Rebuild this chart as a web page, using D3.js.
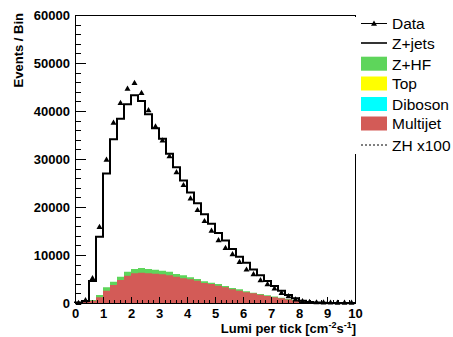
<!DOCTYPE html>
<html>
<head>
<meta charset="utf-8">
<script src="https://cdn.jsdelivr.net/npm/d3@7"></script>
<style>
  body { margin: 0; background: #fff; }
  svg { display: block; font-family: "Liberation Sans", Arial, Helvetica, sans-serif; }
</style>
</head>
<body>
<script>
(function all (){
  //bin lower edges (bin width 0.25)
  var binLo = [0, 0.25, 0.5, 0.75, 1, 1.25, 1.5, 1.75, 2, 2.25, 2.5, 2.75, 3, 3.25, 3.5, 3.75,
    4, 4.25, 4.5, 4.75, 5, 5.25, 5.5, 5.75, 6, 6.25, 6.5, 6.75, 7, 7.25, 7.5, 7.75,
    8, 8.25, 8.5, 8.75, 9, 9.25, 9.5, 9.75];
  var binW = 0.25;

  //stack tops (cumulative)
  var zjetsTop = [100, 400, 4600, 13800, 27000, 34100, 38400, 41400, 43300, 42100, 39300, 36400,
    34200, 31100, 28300, 25500, 23000, 20800, 18500, 16500, 14600, 13000, 11250, 9650,
    8400, 7000, 5770, 4580, 3540, 2560, 1670, 980, 480, 220, 100, 50, 25, 10, 5, 0];
  var zhfTop = [80, 300, 600, 1670, 3270, 4440, 5490, 6530, 7080, 7290, 7080, 6940,
    6740, 6530, 6040, 5760, 5350, 5000, 4510, 4240, 3960, 3540, 3125, 2850,
    2430, 2150, 1875, 1600, 1350, 1100, 850, 600, 400, 250, 150, 100, 60, 40, 20, 10];
  var multijetTop = [50, 230, 450, 1190, 2570, 3750, 4800, 5690, 6180, 6320, 6180, 6110,
    5970, 5760, 5490, 5140, 4930, 4650, 4170, 3960, 3610, 3260, 2850, 2570,
    2220, 2010, 1740, 1460, 1200, 980, 750, 500, 330, 200, 120, 80, 50, 30, 15, 8];
  //data points
  var dataVals = [50, 600, 5200, 15900, 29900, 37600, 41700, 44700, 45900, 43800, 40200, 36800,
    33900, 30600, 27300, 24600, 21800, 19400, 17100, 15100, 13100, 11500, 10200, 8600,
    7000, 6040, 4800, 3960, 3060, 2150, 1460, 770, 420, 250, 180, 150, 130, 110, 100, 90];

  //axis ticks
  var yMajor = [0, 10000, 20000, 30000, 40000, 50000, 60000];
  var xMajor = [0, 1, 2, 3, 4, 5, 6, 7, 8, 9, 10];

  //legend entries
  var legendNames = ["Data", "Z+jets", "Z+HF", "Top", "Diboson", "Multijet", "ZH x100"];
  var legendKinds = ["data", "line", "box", "box", "box", "box", "dash"];
  var legendColors = ["#000", "#000", "#5ed55b", "#ffff00", "#00ffff", "#d35b57", "#000"];

  var width = 453, height = 337;
  var svg = d3.select("body").append("svg")
    .attr("width", width)
    .attr("height", height);

  var x = d3.scaleLinear().domain([0, 10]).range([75, 355]);
  var y = d3.scaleLinear().domain([0, 60000]).range([303, 15]);

  //points for step drawing: each bin low edge plus closing edge
  function stepPoints(vals){
    var pts = binLo.map(function(lo, i){ return {e: lo, v: vals[i]}; });
    pts.push({e: binLo[binLo.length - 1] + binW, v: vals[vals.length - 1]});
    return pts;
  }

  var area = d3.area()
    .x(function(d){ return x(d.e); })
    .y0(y(0))
    .y1(function(d){ return y(d.v); })
    .curve(d3.curveStepAfter);

  var line = d3.line()
    .x(function(d){ return x(d.e); })
    .y(function(d){ return y(d.v); })
    .curve(d3.curveStepAfter);

  //Z+jets on top of stack: white fill, black outline
  svg.append("path")
    .attr("d", area(stepPoints(zjetsTop)))
    .attr("fill", "#fff");
  svg.append("path")
    .attr("d", area(stepPoints(zhfTop)))
    .attr("fill", legendColors[2]);
  svg.append("path")
    .attr("d", area(stepPoints(multijetTop)))
    .attr("fill", legendColors[5]);

  var outline = [{e: 0, v: 0}].concat(stepPoints(zjetsTop));
  outline.push({e: 10, v: 0});
  svg.append("path")
    .attr("d", line(outline))
    .attr("fill", "none")
    .attr("stroke", "#000")
    .attr("stroke-width", 2);

  //axes with inward ticks
  var yAxis = svg.append("g")
    .attr("transform", "translate(" + x(0) + ",0)")
    .call(d3.axisLeft(y).tickValues(yMajor).tickSize(-11).tickPadding(5).tickFormat(d3.format("d")));
  var yMinor = svg.append("g")
    .attr("transform", "translate(" + x(0) + ",0)")
    .call(d3.axisLeft(y).ticks(30).tickSize(-5.5).tickFormat(""));
  var xAxis = svg.append("g")
    .attr("transform", "translate(0," + y(0) + ")")
    .call(d3.axisBottom(x).tickValues(xMajor).tickSize(-6).tickPadding(6).tickFormat(d3.format("d")));
  var xMinor = svg.append("g")
    .attr("transform", "translate(0," + y(0) + ")")
    .call(d3.axisBottom(x).ticks(50).tickSize(-3).tickFormat(""));

  [yAxis, yMinor, xAxis, xMinor].forEach(function(g){
    g.select(".domain").remove();
    g.selectAll("line").attr("stroke", "#000").attr("shape-rendering", "crispEdges");
    g.selectAll("text")
      .attr("fill", "#000")
      .style("font-size", "13px")
      .style("font-weight", "bold")
      .style("font-family", "'Liberation Sans', Arial, sans-serif");
  });

  //frame
  svg.append("rect")
    .attr("x", x(0) + 0.5)
    .attr("y", y(60000) + 0.5)
    .attr("width", x(10) - x(0))
    .attr("height", y(0) - y(60000))
    .attr("fill", "none")
    .attr("stroke", "#000")
    .attr("shape-rendering", "crispEdges");

  //data triangles
  var tri = "M0,-3L3,2.2L-3,2.2Z";
  svg.append("g").selectAll("path")
    .data(dataVals)
    .enter()
    .append("path")
    .attr("d", tri)
    .attr("transform", function(d, i){
      return "translate(" + x(binLo[i] + binW / 2) + "," + y(d) + ")";
    })
    .attr("fill", "#000");

  //axis titles
  svg.append("text")
    .attr("transform", "translate(23,13) rotate(-90)")
    .attr("text-anchor", "end")
    .style("font-size", "13px")
    .style("font-weight", "bold")
    .text("Events / Bin");

  var xt = svg.append("text")
    .attr("x", 356)
    .attr("y", 333)
    .attr("text-anchor", "end")
    .style("font-size", "13px")
    .style("font-weight", "bold");
  xt.append("tspan").text("Lumi per tick [cm");
  xt.append("tspan").attr("dy", -5).style("font-size", "9px").text("-2");
  xt.append("tspan").attr("dy", 5).text("s");
  xt.append("tspan").attr("dy", -5).style("font-size", "9px").text("-1");
  xt.append("tspan").attr("dy", 5).text("]");

  //legend
  svg.append("rect")
    .attr("x", 353)
    .attr("y", 17)
    .attr("width", 100)
    .attr("height", 137)
    .attr("fill", "#fff");

  var legendY = [23.5, 43, 63.7, 83.5, 104, 123.5, 145];
  var lg = svg.append("g").selectAll("g")
    .data(legendNames)
    .enter()
    .append("g")
    .attr("transform", function(d, i){ return "translate(0," + legendY[i] + ")"; });

  lg.each(function(d, i){
    var g = d3.select(this);
    var kind = legendKinds[i];
    if (kind === "box"){
      g.append("rect")
        .attr("x", 361).attr("y", -7)
        .attr("width", 26).attr("height", 14)
        .attr("fill", legendColors[i]);
    } else {
      g.append("line")
        .attr("x1", 361).attr("x2", 387)
        .attr("y1", 0).attr("y2", 0)
        .attr("stroke", "#000")
        .attr("stroke-width", kind === "line" ? 1.6 : 1)
        .attr("stroke-dasharray", kind === "dash" ? "2,2" : null);
      if (kind === "data"){
        g.append("path").attr("d", tri).attr("transform", "translate(374,0)").attr("fill", "#000");
      }
    }
    g.append("text")
      .attr("x", 392)
      .attr("y", 5.8)
      .style("font-size", "15.5px")
      .text(d);
  });
})();
</script>
</body>
</html>
